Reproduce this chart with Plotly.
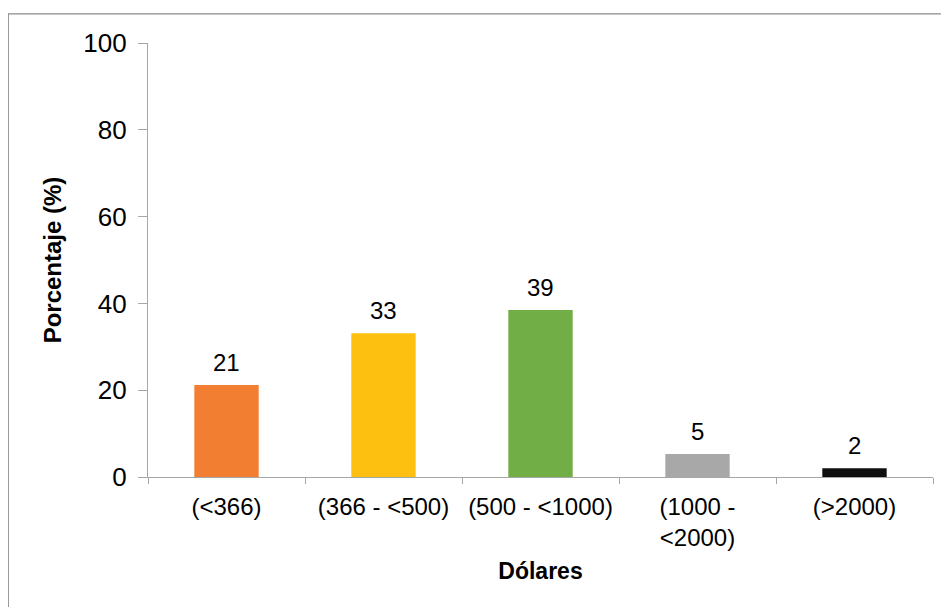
import plotly.graph_objects as go

categories = ["(<366)", "(366 - <500)", "(500 - <1000)", "(1000 -<br><2000)", "(>2000)"]
values = [21.2, 33.1, 38.5, 5.3, 2.0]
labels = ["21", "33", "39", "5", "2"]
colors = ["#F27E32", "#FDC010", "#72AE46", "#A8A8A8", "#0F0F0F"]
y_ticks = [0, 20, 40, 60, 80, 100]

FONT = "Liberation Sans, Arial, sans-serif"

fig = go.Figure()
fig.add_trace(go.Bar(
    x=categories, y=values,
    marker=dict(color=colors, line=dict(width=0)),
    width=0.41,
    hoverinfo="x+y",
))

for c, v, t in zip(categories, values, labels):
    fig.add_annotation(x=c, y=v, text=t, showarrow=False, yanchor="bottom",
                       yshift=7, font=dict(family=FONT, size=24, color="#000000"))

fig.add_shape(type="rect", xref="paper", yref="paper",
              x0=-0.178, x1=1.05, y0=-0.35, y1=1.067,
              line=dict(color="#8C8C8C", width=1.2), fillcolor="rgba(0,0,0,0)", layer="below")

fig.update_layout(
    width=949, height=607,
    margin=dict(l=140, r=24, t=35, b=138),
    paper_bgcolor="white", plot_bgcolor="white",
    showlegend=False,
    font=dict(family=FONT, size=24, color="#000000"),
    xaxis=dict(
        showline=True, linecolor="#A6A6A6", linewidth=1.2,
        ticks="outside", tickson="boundaries", ticklen=6, tickcolor="#A6A6A6",
        ticklabelstandoff=8,
        tickfont=dict(family=FONT, size=24, color="#000000"),
        title=dict(text="<b>Dólares</b>", font=dict(family=FONT, size=23, color="#000000"), standoff=12),
        showgrid=False, zeroline=False,
    ),
    yaxis=dict(
        range=[0, 100], tickvals=y_ticks,
        showline=True, linecolor="#A6A6A6", linewidth=1.2,
        ticks="outside", ticklen=9, tickcolor="#A6A6A6",
        ticklabelstandoff=6,
        tickfont=dict(family=FONT, size=26, color="#000000"),
        title=dict(text="<b>Porcentaje (%)</b>", font=dict(family=FONT, size=24, color="#000000"), standoff=14),
        showgrid=False, zeroline=False,
    ),
)

fig.write_html("out.html")
